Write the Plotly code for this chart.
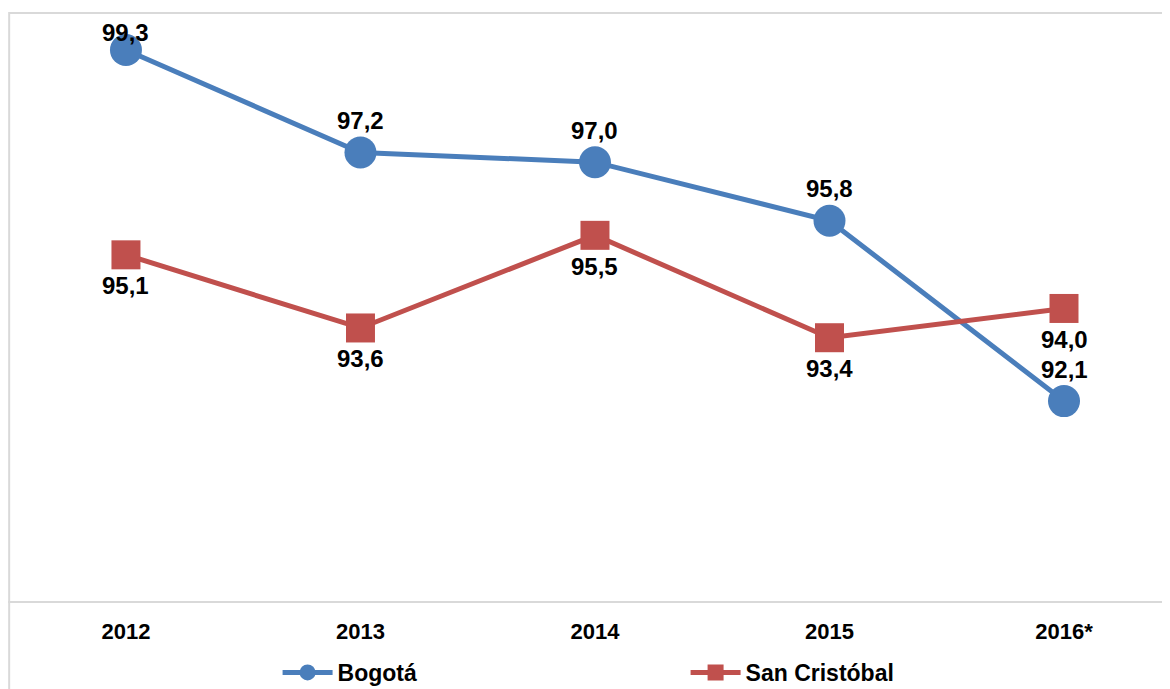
import plotly.graph_objects as go

years = ["2012", "2013", "2014", "2015", "2016*"]
bogota = [99.3, 97.2, 97.0, 95.8, 92.1]
san_cristobal = [95.1, 93.6, 95.5, 93.4, 94.0]

blue = "#4a7ebb"
red = "#c0504d"
font_family = "Liberation Sans, Arial, sans-serif"

# vertical offsets (px) of the data labels from their markers
bogota_label_shift = [18, 32, 32, 32, 32]
sc_label_shift = [-31, -31, -31, -31, -31]


def fmt(v):
    # comma as decimal separator
    return ("%.1f" % v).replace(".", ",")


fig = go.Figure()
fig.add_trace(
    go.Scatter(
        x=years,
        y=bogota,
        name="Bogotá",
        mode="lines+markers",
        line=dict(color=blue, width=5),
        marker=dict(symbol="circle", size=32, color=blue),
        cliponaxis=False,
    )
)
fig.add_trace(
    go.Scatter(
        x=years,
        y=san_cristobal,
        name="San Cristóbal",
        mode="lines+markers",
        line=dict(color=red, width=5),
        marker=dict(symbol="square", size=29, color=red),
        cliponaxis=False,
    )
)

# data labels; x given as category index so "2012" etc. are not read as numbers
for vals, shifts in [(bogota, bogota_label_shift), (san_cristobal, sc_label_shift)]:
    for i, (v, s) in enumerate(zip(vals, shifts)):
        fig.add_annotation(
            x=i, y=v, text=fmt(v), showarrow=False,
            yshift=s, yanchor="middle",
            font=dict(family=font_family, size=24, color="black", weight="bold"),
        )

# outer chart frame
fig.add_shape(
    type="rect", xref="paper", yref="paper",
    x0=0.001, x1=1.05, y0=-0.3, y1=1,
    line=dict(color="#d9d9d9", width=2), layer="below",
)

fig.update_layout(
    width=1162,
    height=681,
    margin=dict(l=0, r=0, t=5, b=88, autoexpand=False),
    paper_bgcolor="white",
    plot_bgcolor="white",
    font=dict(family=font_family, size=22, color="black"),
    showlegend=True,
    legend=dict(
        orientation="h",
        x=0.232,
        xanchor="left",
        y=-0.085,
        yanchor="top",
        entrywidth=343,
        font=dict(size=23, weight="bold"),
        itemwidth=50,
    ),
    xaxis=dict(
        type="category",
        range=[-0.503, 4.452],
        showgrid=False,
        zeroline=False,
        showline=True,
        linecolor="#d9d9d9",
        linewidth=2,
        ticks="",
        tickfont=dict(size=22, weight="bold"),
        ticklabelstandoff=10,
    ),
    yaxis=dict(
        range=[88, 100.06],
        showgrid=False,
        zeroline=False,
        showticklabels=False,
        ticks="",
    ),
)

fig.write_html("out.html")
